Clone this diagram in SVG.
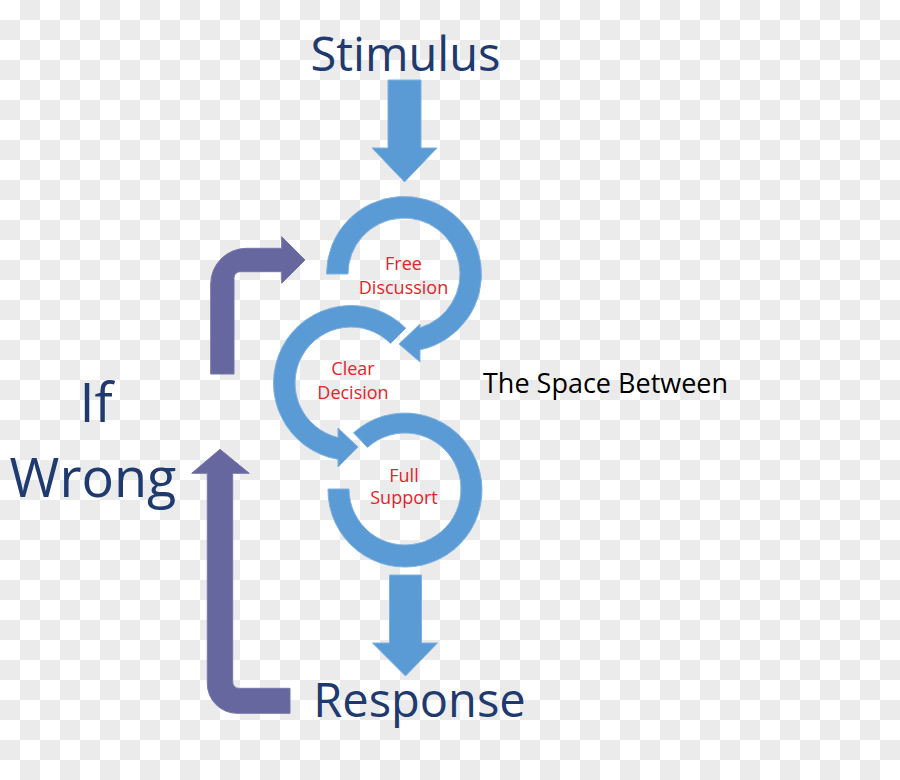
<svg xmlns="http://www.w3.org/2000/svg" width="900" height="780" viewBox="0 0 900 780">
<defs>
<pattern id="checker" x="0" y="0" width="40" height="40" patternUnits="userSpaceOnUse">
<rect width="40" height="40" fill="#ffffff"/>
<rect x="20" y="0" width="20" height="20" fill="#ebebeb"/>
<rect x="0" y="20" width="20" height="20" fill="#ebebeb"/>
</pattern>
<style>
.big{font-family:"Open Sans","Liberation Sans",sans-serif;fill:#1f3a6e;text-anchor:middle}
.lbl{font-family:"Open Sans","Liberation Sans",sans-serif;fill:#e0252b;font-size:18px;text-anchor:middle}
.ring{fill:#5b9bd5;stroke:#7fb1e0;stroke-width:1}
.purple{fill:#67679f;stroke:#7676aa;stroke-width:1}
.blue{fill:#5b9bd5;stroke:#7fb1e0;stroke-width:1}
</style>
</defs>
<rect width="900" height="780" fill="url(#checker)"/>

<g id="connectors">
<path class="blue" d="M388,80 L421,80 L421,148 L437,148 L404.5,182 L372,148 L388,148 Z"/>
<path class="blue" d="M389.5,575 L421.5,575 L421.5,643 L437.5,643 L405.5,676 L372.5,643 L389.5,643 Z"/>
<path class="purple" d="M210.7,374 L210.7,284 A35.7 35.7 0 0 1 246.4,248.3 L281.7,248.3 L281.7,236.7 L305,260 L281.7,283.3 L281.7,271.7 L240,271.7 A6 6 0 0 0 234,277.7 L234,374 Z"/>
<path class="purple" d="M220,449.3 L249.3,473.3 L232.7,473.3 L232.7,682 A6 6 0 0 0 238.7,688.3 L290,688.3 L290,713.3 L237,713.3 A29.7 29.7 0 0 1 207.3,683.6 L207.3,473.3 L191.7,473.3 Z"/>
</g>

<g id="full-support">
<path class="ring" d="M353.5,432.8 A77 77 0 1 1 328,489 L349,489 A56 56 0 1 0 367.5,447.4 Z"/>
<text class="lbl" x="404" y="482">Full</text>
<text class="lbl" x="404" y="504">Support</text>
</g>

<g id="clear-decision">
<path class="ring" d="M405.8,328.2 A77.5 77.5 0 1 0 338,459.4 L338,467 L358,447 L338,428 L338,437.5 A56 56 0 1 1 390.6,343.4 Z"/>
<text class="lbl" x="353" y="375">Clear</text>
<text class="lbl" x="353" y="399">Decision</text>
</g>

<g id="free-discussion">
<path class="ring" d="M326.5,274 A77.5 77.5 0 1 1 420,349.8 L420,362 L399,344 L420,324 L420,327.7 A56 56 0 1 0 348,274 Z"/>
<text class="lbl" x="403.5" y="270">Free</text>
<text class="lbl" x="403.5" y="293.5">Discussion</text>
</g>

<g id="stimulus">
<text class="big" x="405.5" y="71" font-size="47">Stimulus</text>
</g>
<g id="response">
<text class="big" x="419.5" y="717" font-size="47">Response</text>
</g>
<g id="if-wrong">
<text class="big" x="96" y="421.7" font-size="54">If</text>
<text class="big" x="93" y="496.7" font-size="54">Wrong</text>
</g>
<g id="space-between">
<text x="483" y="393.3" font-family="'Open Sans','Liberation Sans',sans-serif" font-size="27" fill="#000000">The Space Between</text>
</g>
</svg>
